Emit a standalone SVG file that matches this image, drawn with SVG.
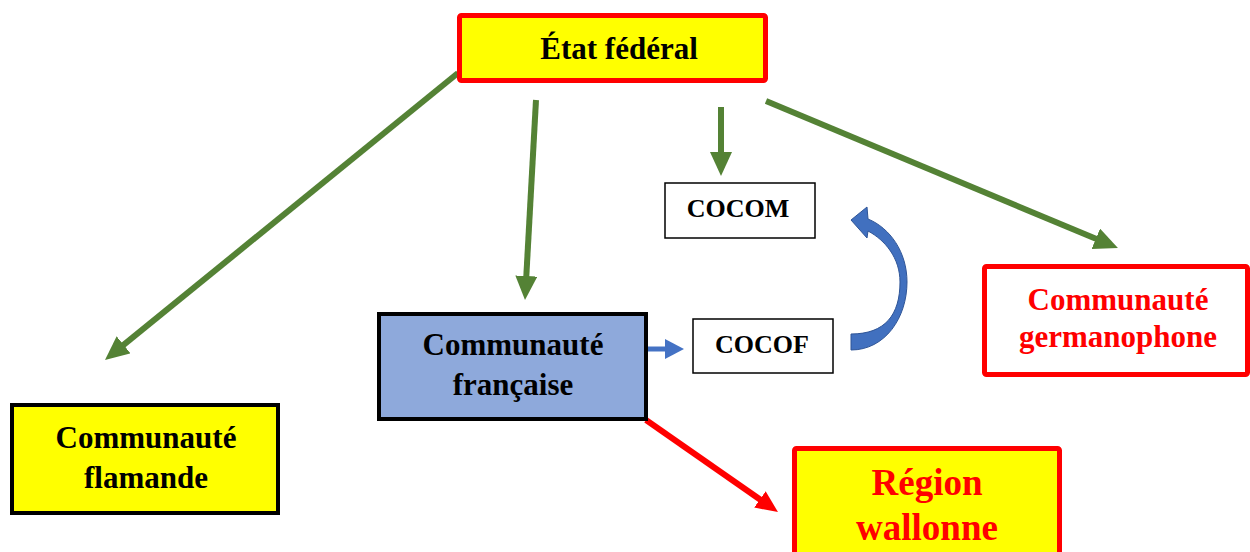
<svg xmlns="http://www.w3.org/2000/svg" width="1250" height="552" viewBox="0 0 1250 552">
<style>
text{font-family:"Liberation Serif","Times New Roman",serif;font-weight:bold;text-anchor:middle}
.g{stroke:#548235;stroke-width:6;fill:none}
.r{stroke:#FF0000;stroke-width:6;fill:none}
.b{stroke:#4472C4;stroke-width:5;fill:none}
.thin{fill:#fff;stroke:#000;stroke-width:1.5}
</style>
<defs>
<marker id="ag" markerUnits="userSpaceOnUse" markerWidth="30" markerHeight="30" refX="4" refY="11" orient="auto"><path d="M0,0 L24,11 L0,22 Z" fill="#548235"/></marker>
<marker id="ar" markerUnits="userSpaceOnUse" markerWidth="30" markerHeight="30" refX="4" refY="10" orient="auto"><path d="M0,0 L22,10 L0,20 Z" fill="#FF0000"/></marker>
<marker id="ab" markerUnits="userSpaceOnUse" markerWidth="24" markerHeight="24" refX="2" refY="10" orient="auto"><path d="M0,0 L19,10 L0,20 Z" fill="#4472C4"/></marker>
</defs>
<rect width="1250" height="552" fill="#fff"/>
<g id="connectors">
<line class="g" x1="458" y1="73" x2="120.5" y2="347.4" marker-end="url(#ag)"/>
<line class="g" x1="536" y1="100" x2="526.1" y2="280" marker-end="url(#ag)"/>
<line class="g" x1="721" y1="107" x2="721" y2="156" marker-end="url(#ag)"/>
<line class="g" x1="766" y1="101" x2="1099.5" y2="240.3" marker-end="url(#ag)"/>
<line class="b" x1="648" y1="349" x2="667" y2="349" marker-end="url(#ab)"/>
<line class="r" x1="646" y1="420" x2="763.2" y2="501.7" marker-end="url(#ar)"/>
<path d="M851,350 C885,350 907,318 907,282 C907,252 890,228 868,219 L867,207 L851,220 L867,238 L868,231 C885,240 900,258 900,282 C900,315 885,334 851,334 Z" fill="#4170BF" stroke="#2F5597" stroke-width="1"/>
</g>
<g id="etat">
<rect x="459.5" y="15.5" width="306" height="65" rx="2" fill="#FFFF00" stroke="#FF0000" stroke-width="5"/>
<text x="619" y="59" font-size="31">État fédéral</text>
</g>
<g id="cocom">
<rect class="thin" x="665" y="183" width="150" height="55"/>
<text x="738" y="217" font-size="26">COCOM</text>
</g>
<g id="cocof">
<rect class="thin" x="693" y="319" width="140" height="54"/>
<text x="762" y="353" font-size="26">COCOF</text>
</g>
<g id="francaise">
<rect x="379" y="314" width="267" height="105" fill="#8EA9DB" stroke="#000" stroke-width="4"/>
<text x="513" y="355" font-size="31">Communauté</text>
<text x="513" y="395" font-size="31">française</text>
</g>
<g id="flamande">
<rect x="12" y="405" width="266" height="108" fill="#FFFF00" stroke="#000" stroke-width="4"/>
<text x="146" y="448" font-size="31">Communauté</text>
<text x="146" y="488" font-size="31">flamande</text>
</g>
<g id="germanophone">
<rect x="984.5" y="266.5" width="263" height="108" rx="2" fill="#fff" stroke="#FF0000" stroke-width="5"/>
<text x="1118" y="310" font-size="31" fill="#FF0000">Communauté</text>
<text x="1118" y="347" font-size="31" fill="#FF0000">germanophone</text>
</g>
<g id="wallonne">
<rect x="794.5" y="448.5" width="265" height="110" rx="2" fill="#FFFF00" stroke="#FF0000" stroke-width="5"/>
<text x="927" y="495" font-size="37" fill="#FF0000">Région</text>
<text x="927" y="540" font-size="37" fill="#FF0000">wallonne</text>
</g>
</svg>
